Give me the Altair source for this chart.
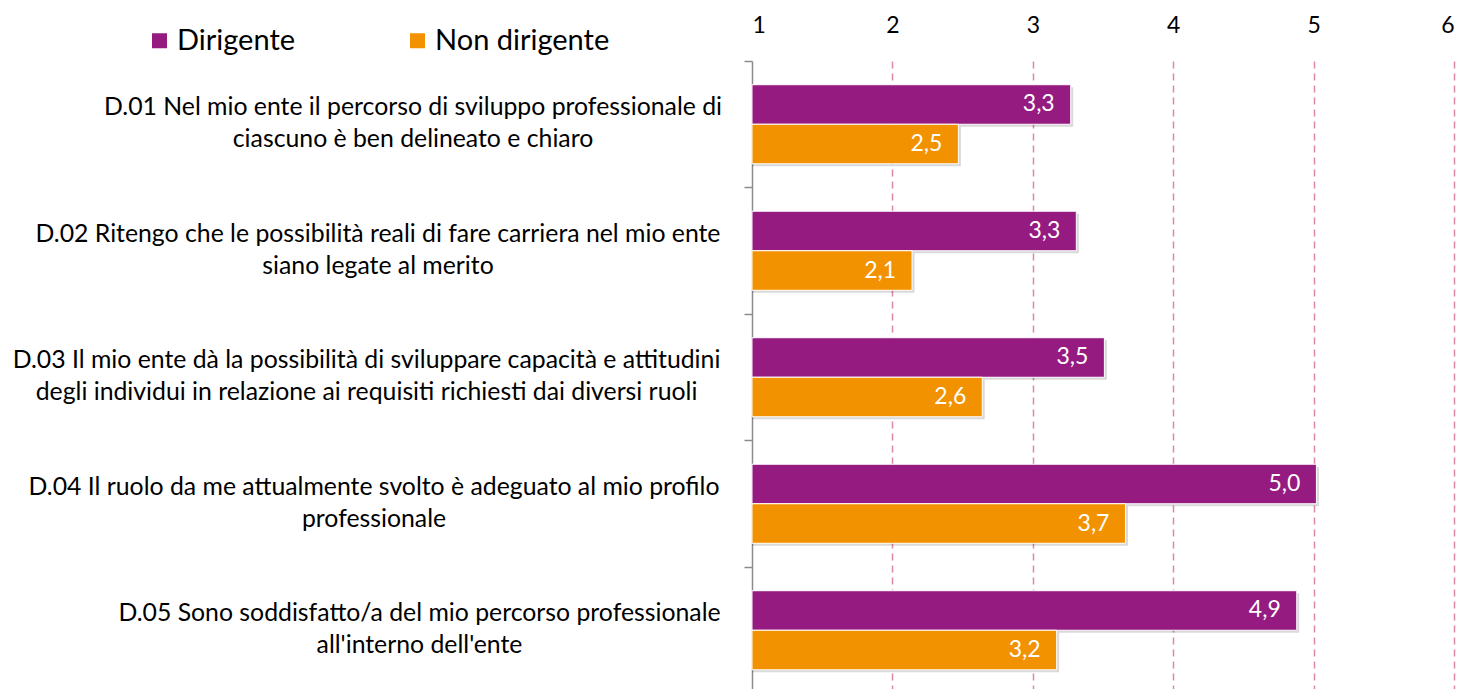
import altair as alt
import pandas as pd

# ---------------- data ----------------
codes = ["D.01", "D.02", "D.03", "D.04", "D.05"]
line1 = [
    "D.01 Nel mio ente il percorso di sviluppo professionale di",
    "D.02 Ritengo che le possibilità reali di fare carriera nel mio ente",
    "D.03 Il mio ente dà la possibilità di sviluppare capacità e attitudini",
    "D.04 Il ruolo da me attualmente svolto è adeguato al mio profilo",
    "D.05 Sono soddisfatto/a del mio percorso professionale",
]
line2 = [
    "ciascuno è ben delineato e chiaro",
    "siano legate al merito",
    "degli individui in relazione ai requisiti richiesti dai diversi ruoli",
    "professionale",
    "all'interno dell'ente",
]
groups = ["Dirigente", "Non dirigente"]
dirigente = [3.27, 3.31, 3.51, 5.02, 4.88]
non_dirigente = [2.47, 2.14, 2.64, 3.66, 3.17]
x_ticks = [1, 2, 3, 4, 5, 6]

cat_order = [a + "|" + b for a, b in zip(line1, line2)]
rows = []
for i, cat in enumerate(cat_order):
    for g, vals in zip(groups, [dirigente, non_dirigente]):
        v = vals[i]
        rows.append({"cat": cat, "code": codes[i], "group": g, "value": v,
                     "label": f"{v:.1f}".replace(".", ",")})
df = pd.DataFrame(rows)

# ---------------- style ----------------
FONT = "Lato"
PURPLE = "#951B81"
ORANGE = "#F39200"
PINK = "#DD88A6"
GREY = "#8C8C8C"
PLOT_W = 702
PLOT_H = 628
BAND_RANGE = 632.5
LABEL_GAP = 24
HALF_W = {"D.01": 307.5, "D.02": 342.5, "D.03": 354, "D.04": 346.5, "D.05": 301}

pad_cond = [{"test": f"substring(datum.value, 0, 4) == '{c}'", "value": LABEL_GAP + w}
            for c, w in HALF_W.items()]

y_enc = alt.Y(
    "cat:N", sort=cat_order,
    scale=alt.Scale(range=[0, BAND_RANGE], paddingInner=0, paddingOuter=0),
    axis=alt.Axis(
        title=None, orient="left", bandPosition=0, labelOffset=-16,
        labelAlign="center", labelBaseline="middle",
        labelPadding={"condition": pad_cond, "value": 340},
        labelExpr="split(datum.label, '|')", labelLineHeight=32,
        labelFont=FONT, labelFontSize=24.8, labelColor="#000000", labelLimit=0,
        domainColor=GREY, domainWidth=1.5, tickColor=GREY, tickWidth=1.5, tickSize=8,
        grid=False,
    ),
)
x_enc = alt.X(
    "value:Q",
    scale=alt.Scale(domain=[1, 6], nice=False, zero=False),
    axis=alt.Axis(
        title=None, orient="top", values=x_ticks, format="d", domain=False, ticks=False,
        tickSize=0, labelPadding=29, labelBaseline="alphabetic",
        labelFont=FONT, labelFontSize=23, labelColor="#000000",
        grid=True,
        gridColor={"condition": {"test": "datum.value == 1", "value": "transparent"}, "value": PINK},
        gridDash=[7, 5], gridWidth=1.5,
    ),
)

off_scale = alt.Scale(type="band", paddingInner=0, paddingOuter=0.6)
shadow_scale = alt.Scale(type="band", paddingInner=0, paddingOuter=0.6, align=0.553)

base = alt.Chart(df)

shadow = base.mark_bar(color="#000000", opacity=0.15, xOffset=2.5).encode(
    y=y_enc, x=x_enc, x2=alt.datum(1),
    yOffset=alt.YOffset("group:N", sort=groups, scale=shadow_scale),
)

bars = base.mark_bar(stroke="white", strokeWidth=1).encode(
    y=y_enc, x=x_enc, x2=alt.datum(1),
    yOffset=alt.YOffset("group:N", sort=groups, scale=off_scale),
    color=alt.Color(
        "group:N", sort=groups,
        scale=alt.Scale(domain=groups, range=[PURPLE, ORANGE]),
        legend=alt.Legend(
            title=None, orient="none", legendX=-607, legendY=-35, direction="horizontal",
            symbolType="square", symbolSize=225, symbolStrokeWidth=0,
            labelFont=FONT, labelFontSize=29, labelColor="#000000", labelOffset=3,
            columnPadding=107, padding=0, labelLimit=0,
        ),
    ),
)

labels = base.mark_text(align="right", baseline="middle", dx=-16, color="white",
                        font=FONT, fontSize=23).encode(
    y=y_enc, x=x_enc,
    yOffset=alt.YOffset("group:N", sort=groups, scale=off_scale),
    text="label:N",
)

chart = (
    alt.layer(shadow, bars, labels)
    .resolve_scale(yOffset="independent")
    .properties(
        width=PLOT_W, height=PLOT_H,
        autosize=alt.AutoSizeParams(type="none"),
        padding={"left": 744, "top": 53, "right": 6, "bottom": 0},
        background="white",
    )
    .configure_view(stroke=None)
)

chart.save("out.html", embed_options={"renderer": "svg", "actions": False})
